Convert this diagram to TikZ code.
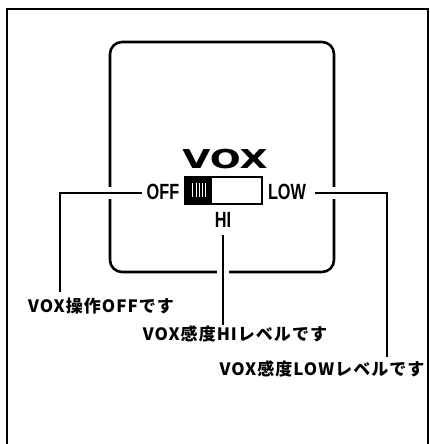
\documentclass[tikz,border=0pt]{standalone}
\usepackage{fontspec}
\newfontfamily\jpfont[LetterSpace=6]{Noto Sans CJK JP}
\newfontfamily\labfont{Liberation Sans}
\newfontfamily\voxfont{DejaVu Sans}
\begin{document}
\begin{tikzpicture}[x=1pt,y=-1pt,
  frameline/.style={line width=2pt,black},
  boxline/.style={line width=2.6pt,black,rounded corners=12pt},
  leader/.style={line width=2pt,black,preaction={draw,white,line width=12pt}},
  jplabel/.style={font=\jpfont\bfseries\fontsize{17}{17}\selectfont,inner sep=0pt},
  swlabel/.style={font=\labfont\bfseries\fontsize{22}{22}\selectfont,inner sep=0pt,xscale=0.74},
  voxlabel/.style={font=\voxfont\bfseries\fontsize{26}{26}\selectfont,inner sep=0pt,xscale=1.4}]
\useasboundingbox (0,0) rectangle (429,444);
% outer frame
\draw[frameline] (7,446) -- (7,9) -- (428,9) -- (428,446);
% rounded panel
\draw[boxline] (110,42) rectangle (334,272);
% switch
\node[draw,line width=2pt,minimum width=77pt,minimum height=27pt,inner sep=0pt] (sw) at (223.5,190.5) {};
\fill[black] (185,177) rectangle (212,204);
\foreach \sx in {192,196,199,202,205}
  \draw[white,line width=1pt] (\sx,183) -- (\sx,197);
% texts
\node[voxlabel] (vox) at (225,159) {VOX};
\node[swlabel] (off) at (163,192) {OFF};
\node[swlabel] (low) at (287,192) {LOW};
\node[swlabel] (hi) at (223,220) {HI};
\node[jplabel] (lab1) at (101,306) {VOX操作OFFです};
\node[jplabel] (lab2) at (235,334) {VOX感度HIレベルです};
\node[jplabel] (lab3) at (322,369) {VOX感度LOWレベルです};
% leader coordinates
\coordinate (c1) at (60,193);
\coordinate (c1e) at (142,193);
\coordinate (c2) at (223,235);
\coordinate (c2e) at (223,325);
\coordinate (c3) at (387,193);
\coordinate (c3s) at (315,193);
\coordinate (c3e) at (387,357);
% leaders
\draw[leader,shorten >=6pt] (c1e) -- (c1) -- (c1 |- lab1.north);
\draw[leader] (c2) -- (c2e);
\draw[leader] (c3s) -- (c3) -- (c3e);
\end{tikzpicture}
\end{document}
